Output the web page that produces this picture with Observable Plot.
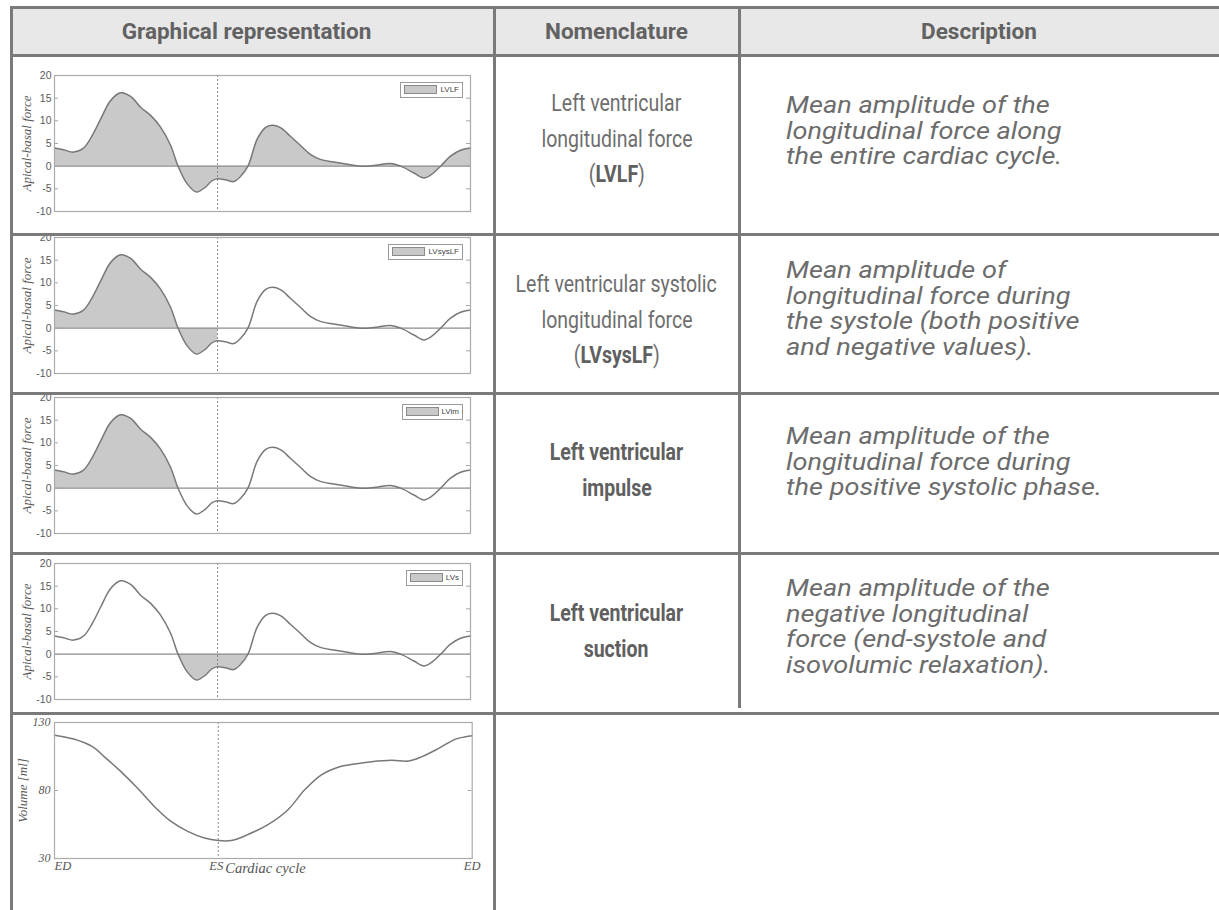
<!DOCTYPE html>
<html>
<head>
<meta charset="utf-8">
<script src="https://cdn.jsdelivr.net/npm/d3@7"></script>
<script src="https://cdn.jsdelivr.net/npm/@observablehq/plot@0.6"></script>
<style>
html,body{margin:0;padding:0;background:#fff;}
#page{position:relative;width:1219px;height:910px;overflow:hidden;font-family:Roboto,"Noto Sans",sans-serif;color:#666;}
.ln{position:absolute;background:#7a7a7a;z-index:5;}
.hdrbg{position:absolute;background:#e8e8e8;z-index:0;}
.hdr{position:absolute;font-weight:700;font-size:22.5px;text-align:center;line-height:26px;white-space:nowrap;color:#626262;}
.nom{position:absolute;text-align:center;font-size:23.5px;line-height:35.5px;white-space:nowrap;font-weight:400;color:#6e6e6e;}
.nom span{display:inline-block;transform:scaleX(0.83);transform-origin:center;}
.nom b{font-weight:700;color:#606060;}
.desc{position:absolute;font-style:italic;font-size:24px;line-height:25.6px;white-space:nowrap;color:#6c6c6c;transform:scaleX(1.13);transform-origin:left top;}
.pl{position:absolute;left:0;z-index:2;}
.leg{position:absolute;z-index:3;display:flex;align-items:center;height:14px;border:1px solid #9a9a9a;background:#fff;padding:0 3px;font-family:"Liberation Sans",Arial,sans-serif;font-size:8px;color:#444;}
.sw{display:inline-block;width:31px;height:7px;background:#c9c9c9;border:1px solid #8a8a8a;margin-right:3px;}
.pl g[aria-label="y-axis label"] text{font-style:italic;font-family:"Liberation Serif","DejaVu Serif",serif;font-size:13px;fill:#555;}
</style>
</head>
<body>
<div id="page"></div>
<script>
// ---------- data ----------
const headers = ["Graphical representation", "Nomenclature", "Description"];

// cardiac cycle position (% of cycle, ED -> ED)
const cycleT = [0, 2.2, 4.6, 7.0, 9.1, 11.1, 13.5, 15.9, 18.3, 20.7, 23.1, 25.5, 27.9, 29.7, 31.9, 34.1, 36.3, 37.9, 39.2, 41.1, 43.1, 44.7, 46.5, 48.7, 50.7, 52.3, 54.3, 56.7, 59.1, 61.5, 63.9, 67.1, 70.4, 73.6, 76.8, 80.8, 83.2, 86.4, 88.8, 90.8, 92.8, 95.2, 97.6, 100];
// apical-basal force
const forceValues = [4.0, 3.6, 3.1, 4.0, 6.8, 10.4, 14.5, 16.2, 15.4, 13.0, 11.2, 8.6, 4.6, 0, -3.9, -5.7, -4.6, -3.2, -2.8, -3.0, -3.4, -2.3, 0, 5.9, 8.5, 9.0, 8.5, 6.6, 4.6, 2.6, 1.5, 0.9, 0.4, 0, 0.15, 0.6, 0, -1.5, -2.6, -1.7, 0, 2.2, 3.5, 4.0];

const volumeT = [0, 4.6, 9.1, 11.9, 15.9, 19.9, 23.9, 27.9, 31.9, 35.9, 39.2, 42.3, 46.3, 51.1, 55.9, 59.9, 63.9, 67.9, 71.9, 75.9, 80.7, 84.8, 88.0, 92.0, 96.0, 98.4, 100];
const volumeValues = [120.7, 117.8, 112.2, 104.9, 93.9, 81.7, 68.3, 57.3, 50.0, 45.1, 43.2, 43.2, 47.6, 54.9, 65.9, 80.5, 91.5, 97.1, 99.5, 101.2, 102.2, 101.7, 104.9, 111.0, 117.8, 119.5, 120.2];

const esT = 39.2;                 // end-systole
const forceTicks = [-10, -5, 0, 5, 10, 15, 20];
const volumeTicks = [30, 80, 130];
const legendLabels = ["LVLF", "LVsysLF", "LVim", "LVs"];
// shaded phase of each index: [start, end] in % of cycle
const shadeStart = [0, 0, 0, 29.7];
const shadeEnd = [100, esT, 29.7, 46.5];
const cycleLabels = ["ED", "ES", "ED"];
const cycleLabelT = [0, esT, 100];
const xAxisTitle = "Cardiac cycle";
const forceTitle = "Apical-basal force";
const volumeTitle = "Volume [ml]";

const nomenclature = [
  ['Left ventricular', 'longitudinal force', '(<b>LVLF</b>)'],
  ['Left ventricular systolic', 'longitudinal force', '(<b>LVsysLF</b>)'],
  ['<b>Left ventricular</b>', '<b>impulse</b>'],
  ['<b>Left ventricular</b>', '<b>suction</b>']
];
const descriptions = [
  ["Mean amplitude of the", "longitudinal force along", "the entire cardiac cycle."],
  ["Mean amplitude of", "longitudinal force during", "the systole (both positive", "and negative values)."],
  ["Mean amplitude of the", "longitudinal force during", "the positive systolic phase."],
  ["Mean amplitude of the", "negative longitudinal", "force (end-systole and", "isovolumic relaxation)."]
];

// ---------- layout ----------
const page = document.getElementById("page");
function box(cls, l, t, w, h, html) {
  const d = document.createElement("div");
  d.className = cls;
  d.style.left = l + "px"; d.style.top = t + "px";
  if (w != null) d.style.width = w + "px";
  if (h != null) d.style.height = h + "px";
  if (html != null) d.innerHTML = html;
  page.appendChild(d);
  return d;
}

// header background + text
box("hdrbg", 11, 8, 1208, 47);
box("hdr", 11, 18, 471, null, headers[0]);
box("hdr", 494, 18, 245, null, headers[1]);
box("hdr", 739, 18, 480, null, headers[2]);

// table lines
box("ln", 10, 6, 1209, 3);          // top
box("ln", 10, 6, 3, 904);           // left
box("ln", 10, 54, 1209, 3);         // header bottom
[233, 392, 552, 712].forEach(y => box("ln", 10, y, 1209, 3));
box("ln", 493, 6, 2.5, 904);        // col 1|2
box("ln", 738, 6, 2.5, 702);        // col 2|3

// nomenclature + description text
const nomTops = [86, 267, 435, 596];
const descTops = [93, 258, 424, 576];
nomenclature.forEach((lines, i) => box("nom", 494, nomTops[i], 245, null, lines.map(s => "<span>" + s + "</span>").join("<br>")));
descriptions.forEach((lines, i) => box("desc", 786, descTops[i], null, null, lines.join("<br>")));

// ---------- plots ----------
const forceData = cycleT.map((t, k) => ({t, v: forceValues[k]}));
const volumeData = volumeT.map((t, k) => ({t, v: volumeValues[k]}));
const frameTops = [74.7, 236.7, 396.7, 562.7];
const W = 490, ML = 54, MR = 20, MT = 8, FH = 136;

function innerTicks(ticks, frameW) {
  return [
    Plot.tickY(ticks, {y: d => d, insetRight: frameW - 4, stroke: "#a8a8a8"}),
    Plot.tickY(ticks, {y: d => d, insetLeft: frameW - 4, stroke: "#a8a8a8"})
  ];
}

frameTops.forEach((ft, i) => {
  const shaded = forceData.filter(d => d.t >= shadeStart[i] && d.t <= shadeEnd[i]);
  const svg = Plot.plot({
    width: W, height: MT + FH + 10,
    marginLeft: ML, marginRight: MR, marginTop: MT, marginBottom: 10,
    style: {background: "transparent", overflow: "visible"},
    x: {domain: [0, 100], axis: null},
    y: {domain: [-10, 20]},
    marks: [
      Plot.areaY(shaded, {x: "t", y: "v", fill: "#c9c9c9", curve: "catmull-rom"}),
      Plot.ruleY([0], {stroke: "#8c8c8c", strokeWidth: 1.3}),
      Plot.line(forceData, {x: "t", y: "v", stroke: "#787878", strokeWidth: 1.5, curve: "catmull-rom"}),
      Plot.ruleX([esT], {stroke: "#8a8a8a", strokeDasharray: "2,2"}),
      Plot.frame({stroke: "#ababab", strokeWidth: 1.2}),
      ...innerTicks(forceTicks, W - ML - MR),
      Plot.axisY({ticks: forceTicks, tickSize: 0, tickPadding: 3, fontSize: 10.5, fill: "#5a5a5a",
        tickFormat: d => String(d),
        fontFamily: "Liberation Sans, Arial, sans-serif",
        label: forceTitle, labelAnchor: "center", labelArrow: "none", labelOffset: 33})
    ]
  });
  svg.classList.add("pl");
  svg.style.position = "absolute";
  svg.style.left = "0px";
  svg.style.top = (ft - MT) + "px";
  page.appendChild(svg);

  const lg = document.createElement("div");
  lg.className = "leg";
  lg.style.right = (1219 - 463) + "px";
  lg.style.top = (ft + 7) + "px";
  lg.innerHTML = '<span class="sw"></span>' + legendLabels[i];
  page.appendChild(lg);
});

// volume plot
{
  const ft = 722.3, MRv = 18.3, MB = 24;
  const fw = W - ML - MRv;
  const serif = "Liberation Serif, DejaVu Serif, serif";
  const lab = (k, anchor, dx) => Plot.text([cycleLabelT[k]], {x: d => d, text: () => cycleLabels[k],
    frameAnchor: "bottom", dy: 11, dx, textAnchor: anchor, fontStyle: "italic", fontFamily: serif, fontSize: 12.5, fill: "#555"});
  const svg = Plot.plot({
    width: W, height: MT + FH + MB,
    marginLeft: ML, marginRight: MRv, marginTop: MT, marginBottom: MB,
    style: {background: "transparent", overflow: "visible"},
    x: {domain: [0, 100], axis: null},
    y: {domain: [30, 130]},
    marks: [
      Plot.line(volumeData, {x: "t", y: "v", stroke: "#787878", strokeWidth: 1.5, curve: "catmull-rom"}),
      Plot.ruleX([esT], {stroke: "#8a8a8a", strokeDasharray: "2,2"}),
      Plot.frame({stroke: "#ababab", strokeWidth: 1.2}),
      ...innerTicks(volumeTicks, fw),
      Plot.axisY({ticks: volumeTicks, tickSize: 0, tickPadding: 4, fontSize: 12, fill: "#5a5a5a",
        fontStyle: "italic", fontFamily: serif,
        label: volumeTitle, labelAnchor: "center", labelArrow: "none", labelOffset: 37}),
      lab(0, "start", 0),
      lab(1, "middle", -2),
      lab(2, "middle", 0),
      Plot.text([esT], {x: d => d, text: () => xAxisTitle, frameAnchor: "bottom", dy: 14, dx: 7,
        textAnchor: "start", fontStyle: "italic", fontFamily: serif, fontSize: 14.5, fill: "#555"})
    ]
  });
  svg.classList.add("pl");
  svg.style.position = "absolute";
  svg.style.left = "0px";
  svg.style.top = (ft - MT) + "px";
  page.appendChild(svg);
}
</script>
</body>
</html>
